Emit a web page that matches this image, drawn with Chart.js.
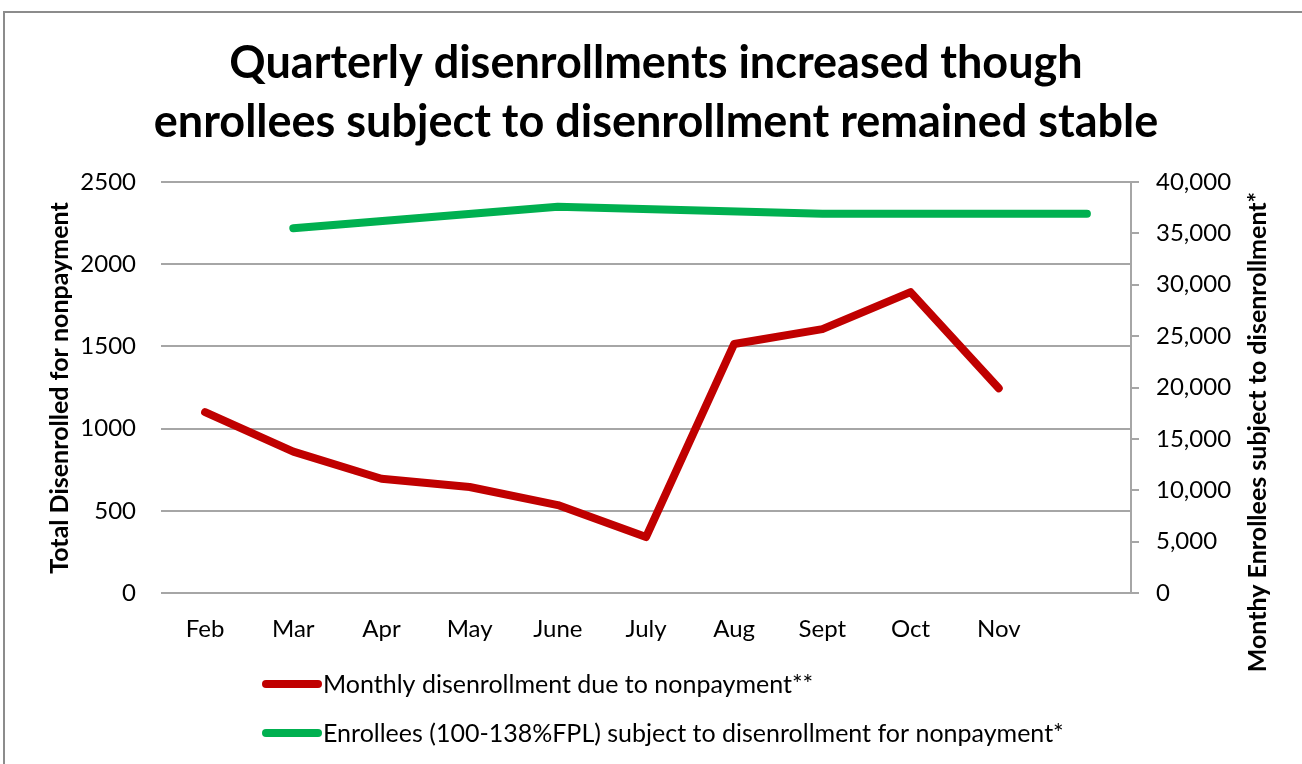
<!DOCTYPE html>
<html>
<head>
<meta charset="utf-8">
<script src="https://cdn.jsdelivr.net/npm/chart.js@4.4.1/dist/chart.umd.min.js"></script>
<style>
  html, body { margin: 0; padding: 0; background: #fff; }
  #wrap { width: 1302px; height: 764px; position: relative; }
</style>
</head>
<body>
<div id="wrap"><canvas id="chart" width="1302" height="764"></canvas></div>
<script>
  "use strict";

  const MONTHS = ["Feb", "Mar", "Apr", "May", "June", "July", "Aug", "Sept", "Oct", "Nov", ""];
  const DISENROLLED = [1100, 860, 695, 645, 535, 340, 1515, 1605, 1830, 1245, null];
  // quarterly counts only; months in between are gaps
  const SUBJECT = [null, 35500, null, null, 37600, null, null, 36900, null, null, 36900];

  const LEFT_TICKS = { min: 0, max: 2500, step: 500 };
  const RIGHT_TICKS = { min: 0, max: 40000, step: 5000 };

  const TITLE_LINES = [
    "Quarterly disenrollments increased though",
    "enrollees subject to disenrollment remained stable",
  ];
  const LEFT_TITLE = "Total Disenrolled for nonpayment";
  const RIGHT_TITLE = "Monthy Enrollees subject to disenrollment*";
  const SERIES_NAMES = [
    "Monthly disenrollment due to nonpayment**",
    "Enrollees (100-138%FPL) subject to disenrollment for nonpayment*",
  ];

  const RED = "#C00000";
  const GREEN = "#00B050";
  const GRID = "#a6a6a6";
  const FONT = "Lato, 'Open Sans', sans-serif";
  const TICK_SIZE = 24;

  const AREA = { left: 161, right: 1131, top: 182, bottom: 593 };

  const chromePlugin = {
    id: "chrome",
    beforeDraw(chart) {
      const ctx = chart.ctx;
      ctx.save();
      ctx.fillStyle = "#fff";
      ctx.fillRect(0, 0, chart.width, chart.height);
      ctx.strokeStyle = "#8c8c8c";
      ctx.lineWidth = 2;
      ctx.beginPath();
      ctx.moveTo(4, chart.height + 2);
      ctx.lineTo(4, 12);
      ctx.lineTo(chart.width + 2, 12);
      ctx.stroke();
      ctx.restore();
    },
    afterDraw(chart) {
      const ctx = chart.ctx;
      ctx.save();
      ctx.fillStyle = "#000";
      ctx.textAlign = "center";
      ctx.textBaseline = "middle";
      ctx.font = "bold 45px " + FONT;
      ctx.fillText(TITLE_LINES[0], 656, 63);
      ctx.fillText(TITLE_LINES[1], 656, 122);

      ctx.font = "bold 25px " + FONT;
      ctx.save();
      ctx.translate(60, 388);
      ctx.rotate(-Math.PI / 2);
      ctx.fillText(LEFT_TITLE, 0, 0);
      ctx.restore();
      ctx.save();
      ctx.translate(1258, 432);
      ctx.rotate(-Math.PI / 2);
      ctx.fillText(RIGHT_TITLE, 0, 0);
      ctx.restore();

      // legend, one row per series
      ctx.textAlign = "left";
      ctx.font = "25px " + FONT;
      ctx.lineCap = "round";
      ctx.lineWidth = 8;
      const rows = [684, 733];
      chart.data.datasets.forEach((ds, i) => {
        const y = rows[i];
        ctx.strokeStyle = ds.borderColor;
        ctx.beginPath();
        ctx.moveTo(266, y);
        ctx.lineTo(318, y);
        ctx.stroke();
        ctx.fillStyle = "#000";
        ctx.fillText(ds.label, 323, y + 1);
      });
      ctx.restore();
    },
  };

  new Chart(document.getElementById("chart"), {
    type: "line",
    data: {
      labels: MONTHS,
      datasets: [
        {
          label: SERIES_NAMES[0],
          data: DISENROLLED,
          yAxisID: "y",
          borderColor: RED,
          borderWidth: 8,
          borderCapStyle: "round",
          borderJoinStyle: "round",
          pointRadius: 0,
          tension: 0,
        },
        {
          label: SERIES_NAMES[1],
          data: SUBJECT,
          yAxisID: "y2",
          borderColor: GREEN,
          borderWidth: 8,
          borderCapStyle: "round",
          borderJoinStyle: "round",
          pointRadius: 0,
          tension: 0,
          spanGaps: true,
        },
      ],
    },
    options: {
      responsive: false,
      animation: false,
      events: [],
      layout: { padding: { top: AREA.top, left: 0, right: 0, bottom: 0 } },
      plugins: {
        legend: { display: false },
        tooltip: { enabled: false },
        title: { display: false },
      },
      scales: {
        x: {
          offset: true,
          grid: { display: false, drawTicks: false },
          border: { display: false },
          ticks: {
            color: "#000",
            font: { family: FONT, size: TICK_SIZE },
            padding: 22,
            maxRotation: 0,
            autoSkip: false,
          },
          afterFit(scale) { scale.height = 764 - AREA.bottom; },
        },
        y: {
          position: "left",
          min: LEFT_TICKS.min,
          max: LEFT_TICKS.max,
          grid: { color: GRID, lineWidth: 2, drawTicks: false },
          border: { display: false },
          ticks: {
            stepSize: LEFT_TICKS.step,
            color: "#000",
            font: { family: FONT, size: TICK_SIZE },
            padding: 25,
            callback: (v) => String(v),
          },
          afterFit(scale) { scale.width = AREA.left; },
        },
        y2: {
          position: "right",
          min: RIGHT_TICKS.min,
          max: RIGHT_TICKS.max,
          grid: { drawOnChartArea: false, color: GRID, lineWidth: 2, tickLength: 8 },
          border: { display: true, color: GRID, width: 2 },
          ticks: {
            stepSize: RIGHT_TICKS.step,
            color: "#000",
            font: { family: FONT, size: TICK_SIZE },
            padding: 17,
            callback: (v) => v.toLocaleString("en-US"),
          },
          afterFit(scale) { scale.width = 1302 - AREA.right; },
        },
      },
    },
    plugins: [chromePlugin],
  });
</script>
</body>
</html>
